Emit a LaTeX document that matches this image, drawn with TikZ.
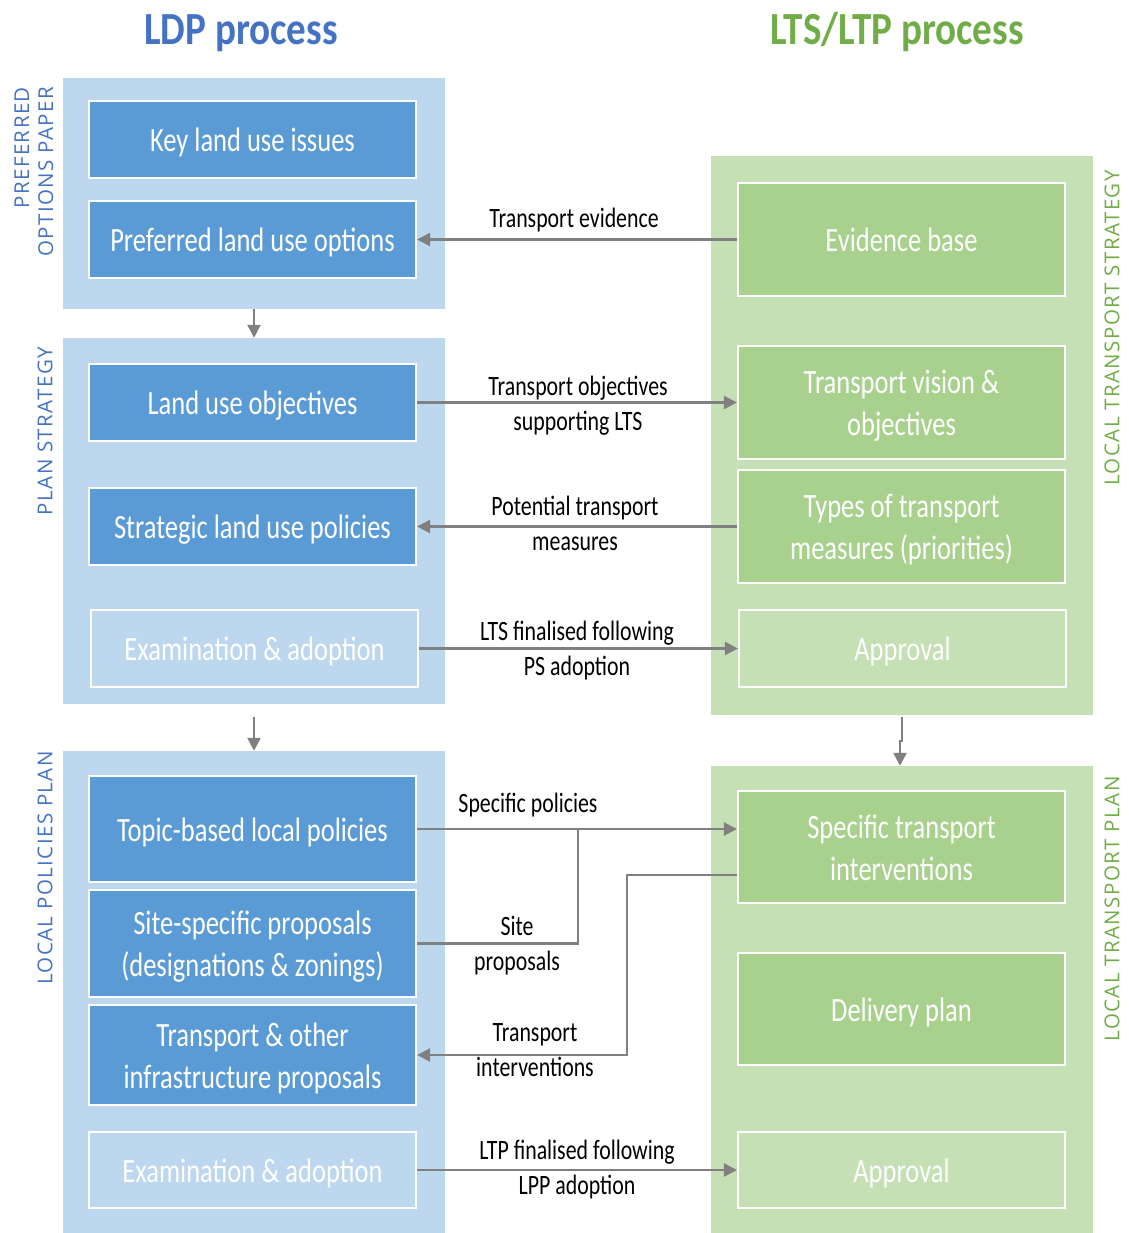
\documentclass[tikz,border=0pt]{standalone}
\usepackage{fontspec}
\setmainfont{Carlito}[FakeStretch=0.78]
\newfontfamily\titlefont{Carlito}[FakeStretch=0.85]
\newfontfamily\capsfont{Open Sans}[LetterSpace=7]
\usetikzlibrary{arrows.meta}

\definecolor{ldpblue}{HTML}{4472C4}
\definecolor{ltsgreen}{HTML}{70AD47}
\definecolor{panelblue}{HTML}{BDD7EE}
\definecolor{boxblue}{HTML}{5B9BD5}
\definecolor{panelgreen}{HTML}{C5E0B4}
\definecolor{boxgreen}{HTML}{A9D18E}
\definecolor{linkgray}{HTML}{808080}

% strut that centres each box line on its capitals
\newcommand\bx{\rule[-8pt]{0pt}{40pt}}

\tikzset{
  panel/.style={draw=none, inner sep=0pt, minimum width=382pt},
  bluepanel/.style={panel, fill=panelblue},
  greenpanel/.style={panel, fill=panelgreen},
  procbox/.style={draw=white, line width=2.2pt, inner sep=0pt, minimum width=327pt,
    text=white, align=center, font=\fontsize{34}{42}\selectfont},
  ldpbox/.style={procbox, fill=boxblue},
  ltsbox/.style={procbox, fill=boxgreen},
  ldpdone/.style={procbox, fill=panelblue},
  ltsdone/.style={procbox, fill=panelgreen},
  link/.style={draw=linkgray, line width=2.4pt,
    -{Triangle[length=13pt,width=13pt]}},
  plainlink/.style={draw=linkgray, line width=2.4pt},
  lbl/.style={inner sep=0pt, text height=18pt, text depth=0pt,
    font=\fontsize{28}{35}\selectfont},
  stage/.style={inner sep=0pt, rotate=90, align=right,
    font=\capsfont\fontsize{20.5}{24}\selectfont},
  heading/.style={inner sep=0pt, text height=30pt, text depth=0pt,
    font=\titlefont\bfseries\fontsize{46}{50}\selectfont}
}

\begin{document}
\begin{tikzpicture}[x=1pt, y=-1pt]
  \useasboundingbox[fill=white] (0,0) rectangle (1128,1233);

  % headings
  \node[heading, text=ldpblue] (ldptitle) at (241,30) {LDP process};
  \node[heading, text=ltsgreen] (ltstitle) at (897,30) {LTS/LTP process};

  % stage panels
  \node[bluepanel, minimum height=231pt] (lp1) at (254,193.5) {};
  \node[bluepanel, minimum height=366pt] (lp2) at (254,521) {};
  \node[bluepanel, minimum height=482pt] (lp3) at (254,992) {};
  \node[greenpanel, minimum height=559pt] (rp1) at (902,435.5) {};
  \node[greenpanel, minimum height=467pt] (rp2) at (902,999.5) {};

  % stage names
  \node[stage, text=ldpblue] (s1) at (34,172) {PREFERRED\\OPTIONS PAPER};
  \node[stage, text=ldpblue] (s2) at (45,431) {PLAN STRATEGY};
  \node[stage, text=ldpblue] (s3) at (45,868) {LOCAL POLICIES PLAN};
  \node[stage, text=ltsgreen] (s4) at (1112,328) {LOCAL TRANSPORT STRATEGY};
  \node[stage, text=ltsgreen] (s5) at (1112,909) {LOCAL TRANSPORT PLAN};

  % LDP steps
  \node[ldpbox, minimum height=77pt] (key) at (252.5,139.5) {\bx Key land use issues};
  \node[ldpbox, minimum height=77pt] (pref) at (252.5,239.5) {\bx Preferred land use options};
  \node[ldpbox, minimum height=77pt] (luo) at (252.5,402.5) {\bx Land use objectives};
  \node[ldpbox, minimum height=77pt] (strat) at (252.5,526.5) {\bx Strategic land use policies};
  \node[ldpdone, minimum height=77pt] (exam1) at (254.5,648.5) {\bx Examination \& adoption};
  \node[ldpbox, minimum height=106pt] (topic) at (252.5,829) {\bx Topic-based local policies};
  \node[ldpbox, minimum height=107pt] (site) at (252.5,943.5) {\bx Site-specific proposals\\\bx (designations \& zonings)};
  \node[ldpbox, minimum height=100pt] (infra) at (252.5,1055) {\bx Transport \& other\\\bx infrastructure proposals};
  \node[ldpdone, minimum height=76pt] (exam2) at (252.5,1170) {\bx Examination \& adoption};

  % LTS/LTP steps
  \node[ltsbox, minimum height=113pt] (evid) at (901.5,239.5) {\bx Evidence base};
  \node[ltsbox, minimum height=113pt] (vision) at (901.5,402.5) {\bx Transport vision \&\\\bx objectives};
  \node[ltsbox, minimum height=113pt] (types) at (901.5,526.5) {\bx Types of transport\\\bx measures (priorities)};
  \node[ltsdone, minimum height=77pt] (appr1) at (902.5,648.5) {\bx Approval};
  \node[ltsbox, minimum height=112pt] (spec) at (901.5,847) {\bx Specific transport\\\bx interventions};
  \node[ltsbox, minimum height=112pt] (deliv) at (901.5,1009) {\bx Delivery plan};
  \node[ltsdone, minimum height=76pt] (appr2) at (901.5,1170) {\bx Approval};

  % flow between stages
  \draw[link] (lp1.south) -- (lp2.north);
  \draw[link] ([yshift=-13pt]lp2.south) -- (lp3.north);
  \draw[link] ([yshift=-2pt]rp1.south) -- ++(0,24) -| ([xshift=-2pt]rp2.north);

  % exchanges between the two processes
  \draw[link] (evid.west) -- (pref.east);
  \node[lbl] (l1) at (574,219) {Transport evidence};

  \draw[link] (luo.east) -- (vision.west);
  \node[lbl] (l2a) at (578,386) {Transport objectives};
  \node[lbl] (l2b) at (578,421) {supporting LTS};

  \draw[link] (types.west) -- (strat.east);
  \node[lbl] (l3a) at (575,506) {Potential transport};
  \node[lbl] (l3b) at (575,541) {measures};

  \draw[link] (exam1.east) -- (appr1.west);
  \node[lbl] (l4a) at (577,631) {LTS finalised following};
  \node[lbl] (l4b) at (577,666) {PS adoption};

  \coordinate (sitejoin) at (578,829);
  \draw[link] (topic.east) -- (topic.east -| spec.west);
  \node[lbl] (l5) at (528,803) {Specific policies};
  \draw[plainlink] (site.east) -| (sitejoin);
  \node[lbl] (l6a) at (517,926) {Site};
  \node[lbl] (l6b) at (517,961) {proposals};

  \draw[link] ([yshift=-28pt]spec.west) -- ++(-110,0) |- (infra.east);
  \node[lbl] (l7a) at (535,1032) {Transport};
  \node[lbl] (l7b) at (535,1067) {interventions};

  \draw[link] (exam2.east) -- (appr2.west);
  \node[lbl] (l8a) at (577,1150) {LTP finalised following};
  \node[lbl] (l8b) at (577,1185) {LPP adoption};
\end{tikzpicture}
\end{document}
